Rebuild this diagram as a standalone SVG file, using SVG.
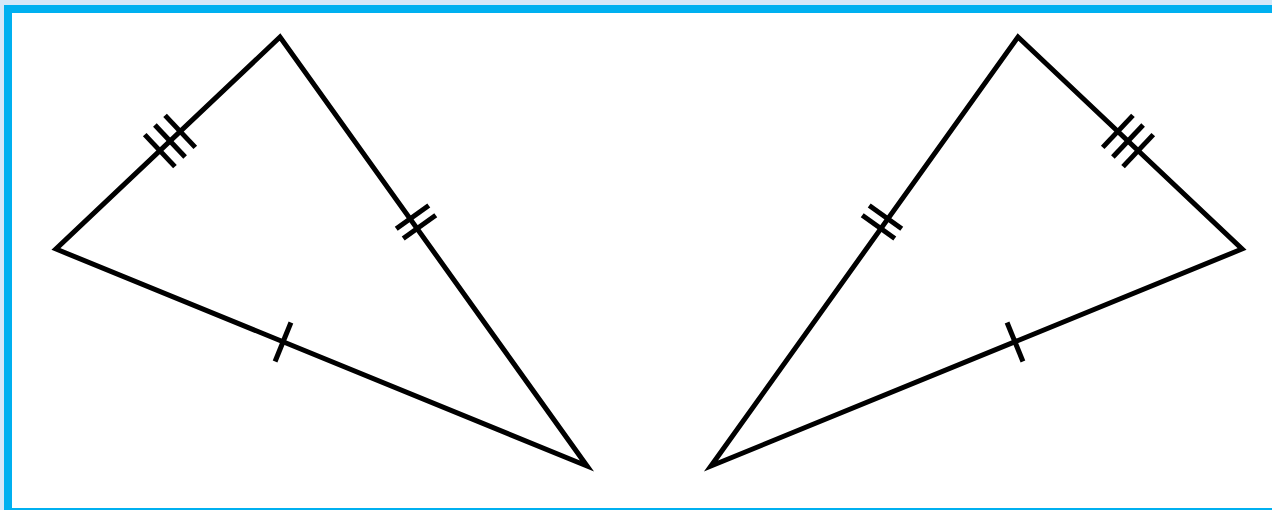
<svg xmlns="http://www.w3.org/2000/svg" width="1272" height="510" viewBox="0 0 1272 510">
  <style>
    .tri { fill: none; stroke: #000; stroke-width: 5; stroke-linejoin: miter; stroke-miterlimit: 4; }
    .tick { stroke: #000; stroke-width: 5; stroke-linecap: butt; }
  </style>
  <defs>
    <g id="tick1"><line class="tick" x1="0" y1="-21" x2="0" y2="21"/></g>
    <g id="tick2">
      <line class="tick" x1="-6" y1="-20" x2="-6" y2="20"/>
      <line class="tick" x1="6" y1="-20" x2="6" y2="20"/>
    </g>
    <g id="tick3">
      <line class="tick" x1="-14" y1="-22" x2="-14" y2="22"/>
      <line class="tick" x1="0" y1="-22" x2="0" y2="22"/>
      <line class="tick" x1="14" y1="-22" x2="14" y2="22"/>
    </g>
  </defs>
  <rect x="0" y="0" width="1272" height="510" fill="#d6e8f8"/>
  <rect id="frame" x="8" y="9" width="1300" height="503" fill="#ffffff" stroke="#00b0f0" stroke-width="8"/>

  <g id="triangle-left">
    <polygon class="tri" points="280,37 56,249 587,466"/>
    <use href="#tick3" transform="translate(170,141) rotate(-43.4)"/>
    <use href="#tick2" transform="translate(416,222) rotate(54.4)"/>
    <use href="#tick1" transform="translate(283,342) rotate(22.2)"/>
  </g>

  <g id="triangle-right">
    <polygon class="tri" points="1018,37 1242,249 711,466"/>
    <use href="#tick3" transform="translate(1128,141) rotate(43.4)"/>
    <use href="#tick2" transform="translate(882,222) rotate(-54.4)"/>
    <use href="#tick1" transform="translate(1015,342) rotate(-22.2)"/>
  </g>
</svg>
